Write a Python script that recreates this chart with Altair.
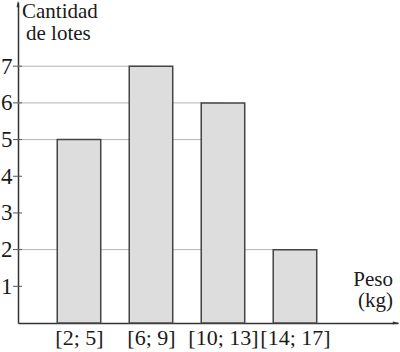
import altair as alt
import pandas as pd

categories = ["[2; 5]", "[6; 9]", "[10; 13]", "[14; 17]"]
counts = [5, 7, 6, 2]
y_ticks = [1, 2, 3, 4, 5, 6, 7]
grid_values = [7, 6, 5, 2]
grid_end = ["[6; 9]", "[10; 13]", "[10; 13]", "[14; 17]"]
y_title = ["Cantidad", "de lotes"]
x_title = ["Peso", "(kg)"]

FONT = "Liberation Serif"
AX = "#333333"
TXT = "#1a1a1a"

idx = list(range(len(categories)))
bars_df = pd.DataFrame({"cat": categories, "n": counts, "i": idx})
grid_df = pd.DataFrame({"v": grid_values, "e": [categories.index(c) for c in grid_end]})
ticks_df = pd.DataFrame({"v": y_ticks})

xscale = alt.Scale(domain=[-0.847, 4.431], nice=False, zero=False)
yscale = alt.Scale(domain=[0, 8.75], nice=False, zero=True)
half = 0.302

label_expr = "[" + ",".join("'%s'" % c for c in categories) + "][datum.value]"

grid = alt.Chart(grid_df).mark_rule(color="#b4b4b4", strokeWidth=1).encode(
    x=alt.X("e:Q", scale=xscale),
    x2=alt.value(0),
    y=alt.Y("v:Q", scale=yscale),
)

bars = alt.Chart(bars_df).transform_calculate(
    lo=f"datum.i - {half}", hi=f"datum.i + {half}"
).mark_rect(fill="#dddddd", stroke="#444444", strokeWidth=1.5).encode(
    x=alt.X("lo:Q", scale=xscale,
            axis=alt.Axis(title=None, values=idx, labelExpr=label_expr, labelAngle=0, ticks=False,
                          grid=False, domainColor=AX, domainWidth=1.5, labelFont=FONT,
                          labelFontSize=22, labelColor=TXT, labelPadding=21,
                          labelBaseline="alphabetic", labelFlush=False, labelOverlap=False)),
    x2="hi:Q",
    y=alt.Y("n:Q", scale=yscale,
            axis=alt.Axis(title=None, values=y_ticks, ticks=False, grid=False, domainColor=AX,
                          domainWidth=1.5, labelFont=FONT, labelFontSize=23, labelColor=TXT,
                          labelPadding=6, format="d")),
    y2=alt.datum(0),
)

yticks = alt.Chart(ticks_df).mark_rule(color="#555555", strokeWidth=1).encode(
    y=alt.Y("v:Q", scale=yscale),
    x=alt.value(-5),
    x2=alt.value(4),
)

one = pd.DataFrame({"k": [0]})
arrow_up = alt.Chart(one).mark_point(shape="M-0.45,1L0,-1L0.45,1Z", filled=True, color=AX,
                                     size=40, opacity=1).encode(
    x=alt.value(0), y=alt.value(2))
arrow_right = alt.Chart(one).mark_point(shape="M-1,-0.45L1,0L-1,0.45Z", filled=True, color=AX,
                                        size=40, opacity=1).encode(
    x=alt.value(378), y=alt.value(321))


def label(txt, x, y, align):
    return alt.Chart(pd.DataFrame({"t": [txt]})).mark_text(
        font=FONT, fontSize=21, align=align, baseline="alphabetic", color=TXT).encode(
        text="t:N", x=alt.value(x), y=alt.value(y))


texts = [
    label(y_title[0], 4, 16, "left"),
    label(y_title[1], 8, 38, "left"),
    label(x_title[0], 375, 284, "right"),
    label(x_title[1], 375, 305, "right"),
]

chart = alt.layer(grid, bars, yticks, arrow_up, arrow_right, *texts).properties(
    width=380, height=321, background="white",
    autosize=alt.AutoSizeParams(type="none"),
    padding={"left": 18, "top": 2, "right": 2, "bottom": 29},
).configure_view(stroke=None)

chart.save("out.html", embed_options={"renderer": "svg", "actions": False})
